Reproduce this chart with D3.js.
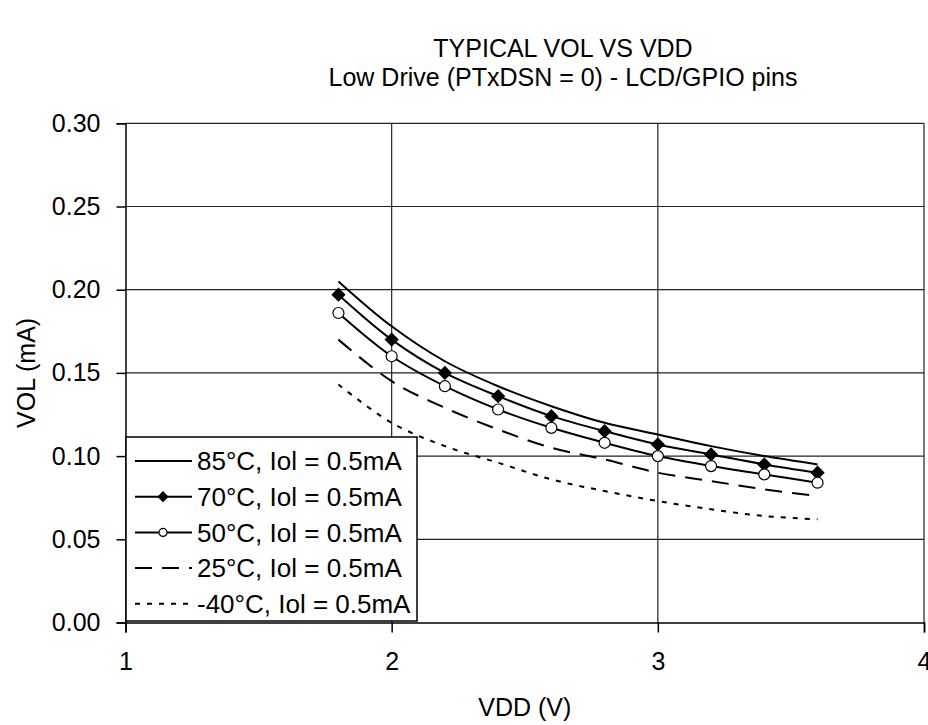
<!DOCTYPE html>
<html lang="en">
<head>
    <meta charset="UTF-8">
    <title>Typical VOL vs VDD</title>
    <script src="https://d3js.org/d3.v7.min.js"></script>
    <style>
        body {
            margin: 0;
            background: #fff;
            font-family: "Liberation Sans", Arial, sans-serif;
        }
        svg text {
            font-family: "Liberation Sans", Arial, sans-serif;
            fill: #000;
        }
        .grid line {
            stroke: #222;
            stroke-width: 1.2px;
        }
        .axis path,
        .axis line {
            stroke: #000;
            stroke-width: 1.5px;
        }
        .axis text {
            font-size: 25px;
        }
        .line {
            fill: none;
            stroke: #000;
            stroke-width: 2px;
        }
    </style>
</head>
<body>
    <svg width="928" height="725"></svg>
    <script>
        // values
        const vdd = [1.8, 2.0, 2.2, 2.4, 2.6, 2.8, 3.0, 3.2, 3.4, 3.6];
        const vol85 = [0.205, 0.178, 0.157, 0.142, 0.130, 0.120, 0.113, 0.106, 0.100, 0.095];
        const vol70 = [0.197, 0.170, 0.150, 0.136, 0.124, 0.115, 0.107, 0.101, 0.095, 0.090];
        const vol50 = [0.186, 0.160, 0.142, 0.128, 0.117, 0.108, 0.100, 0.094, 0.089, 0.084];
        const vol25 = [0.170, 0.145, 0.129, 0.116, 0.105, 0.098, 0.090, 0.085, 0.080, 0.076];
        const volM40 = [0.143, 0.120, 0.106, 0.096, 0.086, 0.079, 0.073, 0.068, 0.064, 0.062];
        const seriesNames = ["85°C, Iol = 0.5mA", "70°C, Iol = 0.5mA", "50°C, Iol = 0.5mA",
                             "25°C, Iol = 0.5mA", "-40°C, Iol = 0.5mA"];
        const xTicks = [1, 2, 3, 4];
        const yTicks = [0, 0.05, 0.10, 0.15, 0.20, 0.25, 0.30];

        const svg = d3.select("svg"),
            margin = {top: 123.3, right: 4, bottom: 102.5, left: 125.5},
            width = +svg.attr("width") - margin.left - margin.right,
            height = +svg.attr("height") - margin.top - margin.bottom,
            g = svg.append("g").attr("transform", `translate(${margin.left},${margin.top})`);

        const x = d3.scaleLinear().domain([1, 4]).range([0, width]),
              y = d3.scaleLinear().domain([0, 0.3]).range([height, 0]);

        // styles per series: dash pattern and marker
        const styles = [
            {dash: null, marker: null},
            {dash: null, marker: "diamond"},
            {dash: null, marker: "circle"},
            {dash: "17,10", marker: null},
            {dash: "5,7", marker: null}
        ];
        const series = [vol85, vol70, vol50, vol25, volM40].map((vals, i) => ({
            name: seriesNames[i],
            style: styles[i],
            values: vals.map((v, j) => ({x: vdd[j], y: v}))
        }));

        // grid
        g.append("g").attr("class", "grid")
            .selectAll("line.h").data(yTicks.filter(d => d > 0))
            .enter().append("line")
            .attr("x1", 0).attr("x2", width)
            .attr("y1", d => y(d)).attr("y2", d => y(d));
        g.select(".grid")
            .selectAll("line.v").data(xTicks.filter(d => d > 1))
            .enter().append("line")
            .attr("x1", d => x(d)).attr("x2", d => x(d))
            .attr("y1", 0).attr("y2", height);

        // axes
        g.append("g")
            .attr("class", "axis")
            .attr("transform", `translate(0,${height})`)
            .call(d3.axisBottom(x).tickValues(xTicks).tickFormat(d3.format("d")).tickSizeOuter(0).tickSize(10).tickPadding(20));

        g.append("g")
            .attr("class", "axis")
            .call(d3.axisLeft(y).tickValues(yTicks).tickFormat(d3.format(".2f")).tickSizeOuter(0).tickSize(9).tickPadding(16));

        const line = d3.line()
            .x(d => x(d.x))
            .y(d => y(d.y))
            .curve(d3.curveCatmullRom.alpha(0.5));

        series.forEach(function(s) {
            g.append("path")
                .datum(s.values)
                .attr("class", "line")
                .attr("stroke-dasharray", s.style.dash)
                .attr("d", line);
        });

        const diamond = d3.symbol().type(d3.symbolDiamond2);

        function drawMarker(sel, type, big) {
            if (type === "diamond") {
                sel.append("path")
                    .attr("d", diamond.size(big ? 130 : 80)())
                    .attr("fill", "#000");
            } else if (type === "circle") {
                sel.append("circle")
                    .attr("r", big ? 5.5 : 4)
                    .attr("fill", "#fff")
                    .attr("stroke", "#000")
                    .attr("stroke-width", 1.2);
            }
        }

        series.forEach(function(s) {
            if (!s.style.marker) return;
            g.append("g").selectAll("g")
                .data(s.values)
                .enter().append("g")
                .attr("transform", d => `translate(${x(d.x)},${y(d.y)})`)
                .each(function() { drawMarker(d3.select(this), s.style.marker, true); });
        });

        // legend
        const legend = svg.append("g").attr("transform", "translate(126,437)");
        legend.append("rect")
            .attr("width", 291).attr("height", 184)
            .attr("fill", "#fff").attr("stroke", "#000").attr("stroke-width", 1.5);

        const rows = legend.selectAll("g.row")
            .data(series)
            .enter().append("g")
            .attr("transform", (d, i) => `translate(0,${24 + i * 35.7})`);

        rows.append("line")
            .attr("x1", 9).attr("x2", 66)
            .attr("stroke", "#000").attr("stroke-width", 2)
            .attr("stroke-dasharray", d => d.style.dash);

        rows.append("g")
            .attr("transform", "translate(37,0)")
            .each(function(d) { drawMarker(d3.select(this), d.style.marker, false); });

        rows.append("text")
            .attr("x", 71)
            .attr("dy", "0.35em")
            .attr("font-size", 26)
            .text(d => d.name);

        // titles
        svg.append("text")
            .attr("x", 563).attr("y", 57)
            .attr("text-anchor", "middle").attr("font-size", 25)
            .text("TYPICAL VOL VS VDD");
        svg.append("text")
            .attr("x", 563).attr("y", 86)
            .attr("text-anchor", "middle").attr("font-size", 25)
            .text("Low Drive (PTxDSN = 0) - LCD/GPIO pins");

        svg.append("text")
            .attr("x", margin.left + width / 2).attr("y", 716)
            .attr("text-anchor", "middle").attr("font-size", 25)
            .text("VDD (V)");

        svg.append("text")
            .attr("transform", `translate(35,${margin.top + height / 2}) rotate(-90)`)
            .attr("text-anchor", "middle").attr("font-size", 25)
            .text("VOL (mA)");
    </script>
</body>
</html>
